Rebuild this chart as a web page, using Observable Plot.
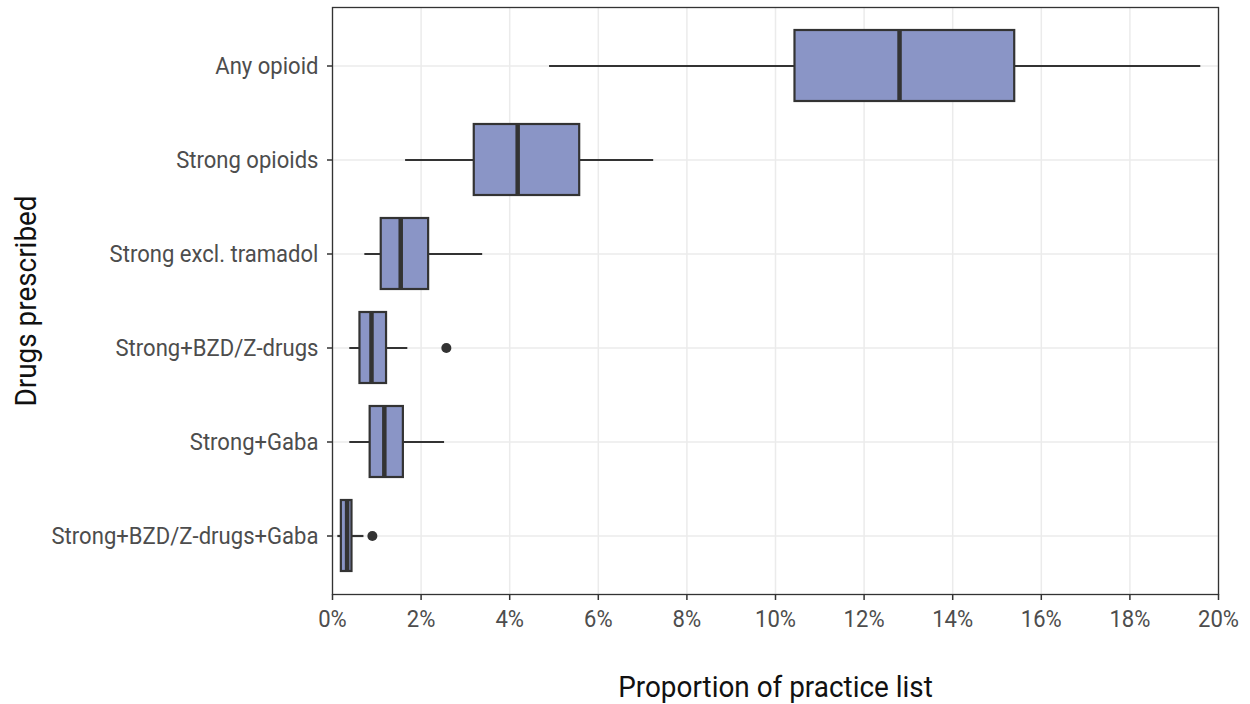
<!DOCTYPE html>
<html>
<head>
<meta charset="utf-8">
<script src="https://cdn.jsdelivr.net/npm/d3@7"></script>
<script src="https://cdn.jsdelivr.net/npm/@observablehq/plot@0.6"></script>
<style>
  html, body { margin: 0; padding: 0; background: #fff; }
  #chart svg { display: block; }
</style>
</head>
<body>
<div id="chart"></div>
<script>
const categories = ["Any opioid", "Strong opioids", "Strong excl. tramadol", "Strong+BZD/Z-drugs", "Strong+Gaba", "Strong+BZD/Z-drugs+Gaba"];
const whiskerLow  = [0.0490, 0.0165, 0.0073, 0.0039, 0.0039, 0.0012];
const q1          = [0.1044, 0.0320, 0.0110, 0.0062, 0.0085, 0.0020];
const median      = [0.1280, 0.0418, 0.0154, 0.0088, 0.0117, 0.0033];
const q3          = [0.1540, 0.0558, 0.0217, 0.0122, 0.0160, 0.0044];
const whiskerHigh = [0.1960, 0.0725, 0.0339, 0.0170, 0.0253, 0.0071];
const outlierCat  = ["Strong+BZD/Z-drugs", "Strong+BZD/Z-drugs+Gaba"];
const outlierVal  = [0.0257, 0.0090];
const xTicks = [0, 0.02, 0.04, 0.06, 0.08, 0.10, 0.12, 0.14, 0.16, 0.18, 0.20];

const boxes = categories.map((c, i) => ({cat: c, lo: whiskerLow[i], q1: q1[i], med: median[i], q3: q3[i], hi: whiskerHigh[i]}));
const outliers = outlierCat.map((c, i) => ({cat: c, v: outlierVal[i]}));

const FONT = "Roboto, 'Noto Sans', sans-serif";
const fill = "#8A95C6";
const dark = "#333333";

const chart = Plot.plot({
  width: 1250,
  height: 704,
  marginLeft: 332,
  marginRight: 32,
  marginTop: 7,
  marginBottom: 110,
  style: {fontFamily: FONT, background: "#fff", overflow: "visible"},
  x: {domain: [0, 0.2]},
  y: {domain: categories, paddingInner: 0.25, paddingOuter: 0.225},
  marks: [
    Plot.gridX(xTicks, {stroke: "#ebebeb", strokeOpacity: 1, strokeWidth: 1.5}),
    Plot.gridY(categories, {stroke: "#ebebeb", strokeOpacity: 1, strokeWidth: 1.5}),
    Plot.ruleY(boxes, {y: "cat", x1: "lo", x2: "hi", stroke: dark, strokeWidth: 2.2}),
    Plot.barX(boxes, {y: "cat", x1: "q1", x2: "q3", fill: fill, stroke: dark, strokeWidth: 2.2}),
    Plot.tickX(boxes, {y: "cat", x: "med", stroke: dark, strokeWidth: 4.5}),
    Plot.dot(outliers, {y: "cat", x: "v", r: 5, fill: dark, stroke: "none"}),
    Plot.frame({stroke: dark, strokeWidth: 1.3}),
    Plot.axisX(xTicks, {
      tickFormat: d3.format(".0%"),
      tickSize: 6, tickPadding: 9,
      fontSize: 24, color: "#4d4d4d", stroke: dark, strokeWidth: 1.5,
      label: "Proportion of practice list", labelAnchor: "center", labelArrow: "none",
      labelOffset: 102
    }),
    Plot.axisY({
      tickSize: 5, tickPadding: 9,
      fontSize: 24, color: "#4d4d4d", stroke: dark, strokeWidth: 1.5,
      label: "Drugs prescribed", labelAnchor: "center", labelArrow: "none",
      labelOffset: 318
    })
  ]
});
document.getElementById("chart").appendChild(chart);

// Narrow the glyphs (the reference uses a condensed face) without moving each text's anchor.
function condense(t, s, vertical) {
  const bb = t.getBBox();
  const anchor = getComputedStyle(t).textAnchor;
  let cx = bb.x + bb.width / 2;
  if (anchor === "end") cx = bb.x + bb.width;
  else if (anchor === "start") cx = bb.x;
  const cy = bb.y + bb.height / 2;
  const list = t.transform && t.transform.baseVal;
  const m = list && list.numberOfItems ? list.consolidate().matrix : {a: 1, b: 0, c: 0, d: 1, e: 0, f: 0};
  const px = m.a * cx + m.c * cy + m.e;
  const py = m.b * cx + m.d * cy + m.f;
  const g = document.createElementNS("http://www.w3.org/2000/svg", "g");
  const sc = vertical ? `scale(1,${s})` : `scale(${s},1)`;
  g.setAttribute("transform", `translate(${px},${py}) ${sc} translate(${-px},${-py})`);
  t.parentNode.insertBefore(g, t);
  g.appendChild(t);
}
chart.querySelectorAll("g[aria-label='x-axis label'] text, g[aria-label='y-axis label'] text").forEach(t => {
  t.setAttribute("font-size", "30");
  t.setAttribute("fill", "#111");
  t.style.fill = "#111";
});
chart.querySelectorAll("g[aria-label='x-axis tick label'] text, g[aria-label='y-axis tick label'] text").forEach(t => condense(t, 0.92, false));
chart.querySelectorAll("g[aria-label='x-axis label'] text").forEach(t => condense(t, 0.93, false));
chart.querySelectorAll("g[aria-label='y-axis label'] text").forEach(t => condense(t, 0.93, true));
</script>
</body>
</html>
